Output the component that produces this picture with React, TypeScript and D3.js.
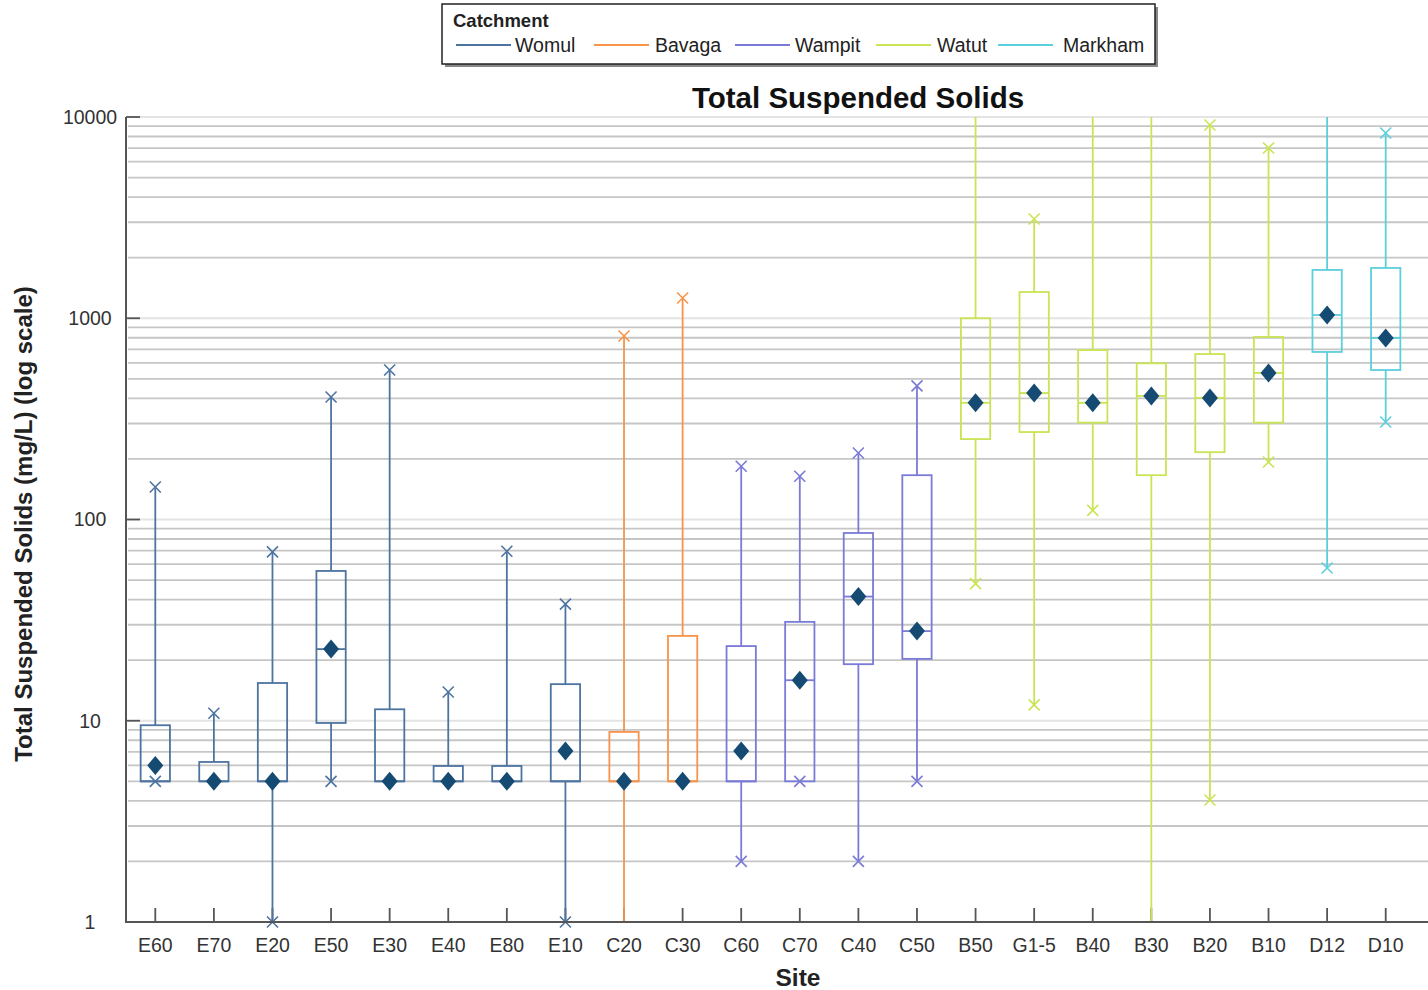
import React from "react";
import * as d3 from "d3";

// Sites in plotting order, with their catchment
const sites = ["E60","E70","E20","E50","E30","E40","E80","E10","C20","C30","C60","C70","C40","C50","B50","G1-5","B40","B30","B20","B10","D12","D10"];
const catchmentOf = ["Womul","Womul","Womul","Womul","Womul","Womul","Womul","Womul","Bavaga","Bavaga","Wampit","Wampit","Wampit","Wampit","Watut","Watut","Watut","Watut","Watut","Watut","Markham","Markham"];

// Box statistics, mg/L
const whiskerMin = [5, 5, 1, 5, 5, 5, 5, 1, 1, 5, 2, 5, 2, 5, 48, 12, 111, 1, 4.04, 193, 57.4, 305];
const q1 =         [5, 5, 5, 9.75, 5, 5, 5, 5, 5, 5, 5, 5, 19.1, 20.3, 251, 272, 303, 166, 216, 303, 680, 553];
const median =     [5, 5, 5, 22.7, 5, 5, 5, 5, 5, 5, 5, 15.9, 41.4, 27.9, 380, 425, 380, 411, 402, 535, 1038, 798];
const q3 =         [9.5, 6.24, 15.4, 55.5, 11.4, 5.96, 5.96, 15.2, 8.8, 26.4, 23.5, 31, 85.7, 166, 1000, 1350, 695, 597, 664, 807, 1738, 1778];
const whiskerMax = [145, 10.9, 69, 406, 553, 13.9, 69.5, 38, 816, 1260, 184, 164, 214, 461, 15000, 3113, 15000, 15000, 9120, 7016, 15000, 8330];
const means =      [6.0, 5, 5, 22.7, 5, 5, 5, 7.07, 5, 5, 7.07, 15.9, 41.4, 27.9, 380, 425, 380, 411, 402, 535, 1038, 798];
// whether the whisker end carries an "x" marker
const markMin = [true, false, true, true, false, false, false, true, false, false, true, true, true, true, true, true, true, false, true, true, true, true];
const markMax = [true, true, true, true, true, true, true, true, true, true, true, true, true, true, false, true, false, false, true, true, false, true];

const catchments = ["Womul", "Bavaga", "Wampit", "Watut", "Markham"];
const catchmentColors = ["#4d74a0", "#f7944a", "#7a7ad8", "#c9e454", "#5ccfdc"];

const yTickValues = [1, 10, 100, 1000, 10000];
const yTickLabels = ["1", "10", "100", "1000", "10000"];

const W = 1428, H = 990;
const left = 126, right = 1415, plotRight = 1428, top = 117, bottom = 922;
const font = "Liberation Sans, Arial, Helvetica, sans-serif";

export default function App() {
  const x = d3.scalePoint<string>().domain(sites).range([left, right]).padding(0.5);
  const y = d3.scaleLog().domain([1, 10000]).range([bottom, top]);
  const color = d3.scaleOrdinal<string, string>().domain(catchments).range(catchmentColors);
  const boxHalf = x.step() * 0.25;

  // minor/major grid values
  const gridValues: { v: number; major: boolean }[] = [];
  for (let e = 0; e < 4; e++) {
    for (let m = 1; m <= 9; m++) gridValues.push({ v: m * Math.pow(10, e), major: m === 1 });
  }
  gridValues.push({ v: 10000, major: true });

  const cross = (cx: number, cy: number, c: string, key: string) => (
    <path key={key} d={`M${cx - 5.5},${cy - 5.5}L${cx + 5.5},${cy + 5.5}M${cx - 5.5},${cy + 5.5}L${cx + 5.5},${cy - 5.5}`} stroke={c} strokeWidth={1.6} fill="none" />
  );

  const legendLineX = [456, 594, 735, 876, 998];
  const legendTextX = [515, 655, 795, 937, 1063];

  return (
    <svg width={W} height={H} style={{ display: "block", position: "absolute", left: 0, top: 0, background: "#fff" }} fontFamily={font}>
      <defs>
        <clipPath id="plotClip">
          <rect x={left} y={top} width={plotRight - left} height={bottom - top + 10} />
        </clipPath>
      </defs>

      {/* grid */}
      <g>
        {gridValues.map((g, i) => (
          <line key={i} x1={left + 2} x2={plotRight} y1={y(g.v)} y2={y(g.v)} stroke={g.major ? "#e4e4e4" : "#c6c6c6"} strokeWidth={1.8} />
        ))}
      </g>

      {/* axis ticks, under the boxes */}
      {yTickValues.map((v) => (
        <line key={v} x1={left} x2={left + 14} y1={y(v)} y2={y(v)} stroke="#555" strokeWidth={1.8} />
      ))}
      {sites.map((s) => (
        <line key={s} x1={x(s)!} x2={x(s)!} y1={bottom} y2={bottom - 14} stroke="#555" strokeWidth={1.8} />
      ))}

      {/* boxes */}
      <g clipPath="url(#plotClip)">
        {sites.map((s, i) => {
          const cx = x(s)!;
          const c = color(catchmentOf[i]);
          const yq1 = y(q1[i]), yq3 = y(q3[i]);
          return (
            <g key={s}>
              <line x1={cx} x2={cx} y1={y(q3[i])} y2={Math.max(top, y(Math.max(whiskerMax[i], q3[i])))} stroke={c} strokeWidth={1.8} />
              <line x1={cx} x2={cx} y1={y(q1[i])} y2={y(Math.min(whiskerMin[i], q1[i]))} stroke={c} strokeWidth={1.8} />
              <rect x={cx - boxHalf} y={yq3} width={boxHalf * 2} height={yq1 - yq3} fill="none" stroke={c} strokeWidth={1.8} />
              <line x1={cx - boxHalf} x2={cx + boxHalf} y1={y(median[i])} y2={y(median[i])} stroke={c} strokeWidth={1.8} />
              {markMax[i] && cross(cx, y(whiskerMax[i]), c, "mx")}
              {markMin[i] && cross(cx, y(whiskerMin[i]), c, "mn")}
              <path d={`M${cx},${y(means[i]) - 9.5}L${cx + 8},${y(means[i])}L${cx},${y(means[i]) + 9.5}L${cx - 8},${y(means[i])}Z`} fill="#154a72" />
            </g>
          );
        })}
      </g>

      {/* y axis */}
      <line x1={left} x2={left} y1={top} y2={bottom + 1} stroke="#555" strokeWidth={2} />
      {yTickValues.map((v, i) => (
        <text key={v} x={90} y={y(v)} dy="0.35em" textAnchor="middle" fontSize={19.5} fill="#333">{yTickLabels[i]}</text>
      ))}

      {/* x axis */}
      <line x1={left - 1} x2={plotRight} y1={bottom} y2={bottom} stroke="#555" strokeWidth={2} />
      {sites.map((s) => (
        <text key={s} x={x(s)!} y={bottom + 30} textAnchor="middle" fontSize={19.5} fill="#333">{s}</text>
      ))}

      {/* titles */}
      <text x={858} y={108} textAnchor="middle" fontSize={29.5} fontWeight="bold" fill="#111">Total Suspended Solids</text>
      <text x={798} y={986} textAnchor="middle" fontSize={24.5} fontWeight="bold" fill="#222">Site</text>
      <text transform="translate(32,524) rotate(-90)" textAnchor="middle" fontSize={24} fontWeight="bold" fill="#222">Total Suspended Solids (mg/L) (log scale)</text>

      {/* legend */}
      <g>
        <rect x={445} y={7} width={713} height={60} fill="#888" />
        <rect x={442} y={4} width={713} height={60} fill="#fff" stroke="#222" strokeWidth={1.5} />
        <text x={453} y={27} fontSize={18.5} fontWeight="bold" fill="#222">Catchment</text>
        {catchments.map((c, i) => (
          <g key={c}>
            <line x1={legendLineX[i]} x2={legendLineX[i] + 55} y1={45} y2={45} stroke={catchmentColors[i]} strokeWidth={1.8} />
            <text x={legendTextX[i]} y={52} fontSize={19.5} fill="#222">{c}</text>
          </g>
        ))}
      </g>
    </svg>
  );
}
